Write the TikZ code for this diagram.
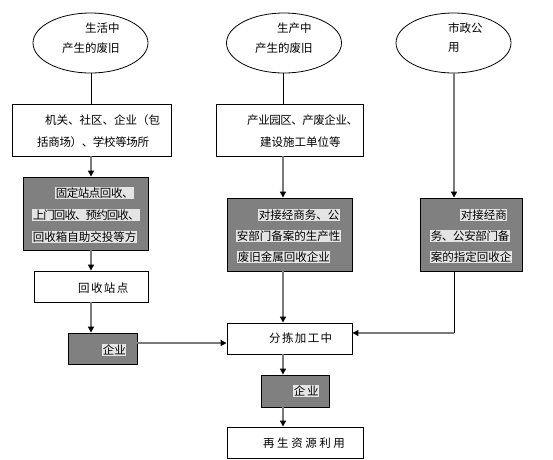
\documentclass[tikz,border=0pt]{standalone}
\usepackage{fontspec}
\setmainfont{Noto Sans CJK SC}
\usetikzlibrary{shapes.geometric,arrows.meta}
\definecolor{boxgray}{HTML}{808080}
\definecolor{hlgray}{HTML}{E4E4E4}
\definecolor{linegray}{HTML}{7A7A7A}
\begin{document}
\begin{tikzpicture}[x=1pt,y=-1pt,
  every node/.style={font=\fontsize{11.5}{13}\selectfont},
  ell/.style={ellipse,draw,line width=0.8pt,minimum width=115pt,minimum height=60pt,inner sep=0pt},
  wbox/.style={rectangle,draw,line width=0.9pt,fill=white,inner sep=0pt},
  gbox/.style={rectangle,draw,line width=0.9pt,fill=boxgray,inner sep=0pt},
  txt/.style={anchor=west,inner sep=0pt},
  hl/.style={anchor=west,inner sep=0.6pt,fill=hlgray},
  garrow/.style={draw=linegray,line width=1.3pt,-{Triangle[length=6pt,width=6pt,color=black]}},
  bline/.style={draw=black,line width=0.8pt},
  gline/.style={draw=linegray,line width=1.3pt}]
\useasboundingbox (0,0) rectangle (553,459);
% column coordinates
\coordinate (cx1) at (91,0);
\coordinate (cx2) at (283,0);
\coordinate (cx3) at (454,0);
\coordinate (ry) at (0,333);
\coordinate (ly) at (0,343);
% ellipses
\node[ell] (e1) at (90.5,43) {};
\node[ell] (e2) at (284,43) {};
\node[ell] (e3) at (453.5,43) {};
\node[txt] (e1a) at (85,28) {生活中};
\node[txt] (e1b) at (62,48) {产生的废旧};
\node[txt] (e2a) at (277,28) {生产中};
\node[txt] (e2b) at (255,48) {产生的废旧};
\node[txt] (e3a) at (448,28) {市政公};
\node[txt] (e3b) at (448,48) {用};
% white boxes
\node[wbox,minimum width=159pt,minimum height=52pt] (b1) at (91.5,130) {};
\node[txt] (b1a) at (45,120) {机关、社区、企业（包};
\node[txt] (b1b) at (37,142) {\addfontfeature{LetterSpace=-3}括商场）、学校等场所};
\node[wbox,minimum width=147pt,minimum height=52pt] (b2) at (289.5,130) {};
\node[txt] (b2a) at (247,120) {\addfontfeature{LetterSpace=-4}产业园区、产废企业、};
\node[txt] (b2b) at (260,142) {建设施工单位等};
% gray boxes
\node[gbox,minimum width=125pt,minimum height=73pt] (g1) at (85.5,213.5) {};
\node[hl] (g1a) at (55,193) {\addfontfeature{LetterSpace=-4}固定站点回收、};
\node[hl] (g1b) at (32,215) {\addfontfeature{LetterSpace=-8}上门回收、预约回收、};
\node[hl] (g1c) at (32,237) {回收箱自助交投等方};
\node[gbox,minimum width=125pt,minimum height=73pt] (g2) at (289.5,234.5) {};
\node[hl] (g2a) at (258,215) {对接经商务、公};
\node[hl] (g2b) at (236,236) {安部门备案的生产性};
\node[hl] (g2c) at (237,257) {废旧金属回收企业};
\node[gbox,minimum width=102pt,minimum height=73pt] (g3) at (471,234.5) {};
\node[hl] (g3a) at (460,215) {对接经商};
\node[hl] (g3b) at (430,236) {\addfontfeature{LetterSpace=-3}务、公安部门备};
\node[hl] (g3c) at (430,257) {案的指定回收企};
% lower boxes
\node[wbox,minimum width=114pt,minimum height=31pt] (st) at (91,286.5) {};
\node[txt] (sta) at (78,288) {\addfontfeature{LetterSpace=12}回收站点};
\node[gbox,minimum width=69pt,minimum height=31pt] (en1) at (102.5,348.5) {};
\node[hl] (en1a) at (102,350) {企业};
\node[wbox,minimum width=125pt,minimum height=31pt] (so) at (289.5,338.5) {};
\node[txt] (soa) at (269,338) {\addfontfeature{LetterSpace=12}分拣加工中};
\node[gbox,minimum width=68pt,minimum height=32pt] (en2) at (295,391) {};
\node[hl] (en2a) at (293,391) {企\,业};
\node[wbox,minimum width=136pt,minimum height=31pt] (re) at (295,442.5) {};
\node[txt] (rea) at (263,443) {\addfontfeature{LetterSpace=22}再生资源利用};
% connectors
\draw[bline] (e1.south -| cx1) -- (b1.north -| cx1);
\draw[bline] (e2.south -| cx2) -- (b2.north -| cx2);
\draw[garrow] (b1.south -| cx1) -- (g1.north -| cx1);
\draw[garrow] (g1.south -| cx1) -- (st.north -| cx1);
\draw[garrow] (st.south -| cx1) -- (en1.north -| cx1);
\draw[garrow] (en1.east |- ly) -- (so.west |- ly);
\draw[garrow] (b2.south -| cx2) -- (g2.north -| cx2);
\draw[garrow] (g2.south -| cx2) -- (so.north -| cx2);
\draw[garrow] (so.south -| cx2) -- (en2.north -| cx2);
\draw[garrow] (en2.south -| cx2) -- (re.north -| cx2);
\draw[garrow] (e3.south -| cx3) -- (g3.north -| cx3);
\coordinate (rc) at (cx3 |- ry);
\draw[bline] (g3.south -| cx3) -- (rc);
\draw[garrow] (rc) -- (so.east |- ry);
\end{tikzpicture}
\end{document}
